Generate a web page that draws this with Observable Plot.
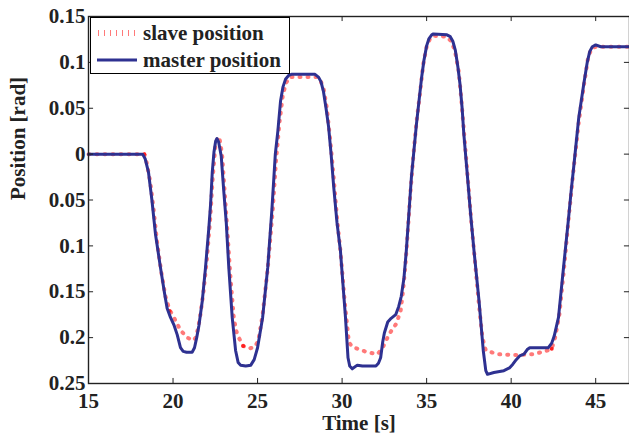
<!DOCTYPE html>
<html>
<head>
<meta charset="utf-8">
<script src="https://cdn.jsdelivr.net/npm/d3@7"></script>
<script src="https://cdn.jsdelivr.net/npm/@observablehq/plot@0.6"></script>
<style>
  body { margin: 0; background: white; }
  #wrap { position: relative; width: 629px; height: 438px; }
  #wrap svg text { font-family: "Liberation Serif", serif; font-weight: bold; }
  #legend { position: absolute; left: 90px; top: 17px; width: 198px; height: 55px; border: 1.3px solid black; background: white;
            font-family: "Liberation Serif", serif; font-weight: bold; font-size: 21px; color: #222; }
  .row { position: absolute; left: 0; height: 26px; display: flex; align-items: center; }
  .row span { margin-left: 6px; }
</style>
</head>
<body>
<div id="wrap"></div>
<script>
// ---- data ----
const masterT = [15,18.2,18.35,18.55,18.75,18.96,19.26,19.5,19.65,19.85,20.05,20.25,20.44,20.6,20.8,21.13,21.27,21.4,21.53,21.73,21.92,22.12,22.22,22.32,22.42,22.52,22.6,22.7,22.85,23.0,23.15,23.3,23.5,23.7,23.85,24.0,24.3,24.6,24.8,25.0,25.3,25.6,25.85,26.05,26.2,26.36,26.5,26.66,26.85,27.0,28.4,28.6,28.75,28.9,29.05,29.2,29.35,29.5,29.7,29.9,30.2,30.35,30.45,30.6,30.9,31.2,32.0,32.15,32.28,32.4,32.5,32.7,32.9,33.17,33.35,33.5,33.66,33.8,33.95,34.1,34.25,34.4,34.55,34.7,34.84,35.0,35.14,35.3,35.4,36.2,36.4,36.55,36.7,36.85,36.97,37.1,37.2,37.4,37.6,37.8,38.1,38.35,38.5,38.6,38.98,39.57,39.9,40.1,40.3,40.5,40.76,40.95,41.1,42.2,42.4,42.55,42.8,43.1,43.4,43.55,43.7,44.0,44.3,44.5,44.65,44.8,45.0,45.3,47];
const masterY = [0,0,-0.005,-0.02,-0.05,-0.087,-0.124,-0.152,-0.168,-0.178,-0.186,-0.197,-0.211,-0.215,-0.216,-0.216,-0.211,-0.2,-0.187,-0.16,-0.124,-0.08,-0.055,-0.02,0.002,0.014,0.017,0.013,-0.002,-0.04,-0.075,-0.124,-0.178,-0.214,-0.227,-0.23,-0.231,-0.23,-0.224,-0.211,-0.178,-0.124,-0.06,0.0,0.025,0.058,0.073,0.082,0.086,0.087,0.087,0.084,0.079,0.068,0.05,0.03,0.0,-0.035,-0.075,-0.105,-0.178,-0.222,-0.231,-0.234,-0.23,-0.231,-0.231,-0.228,-0.222,-0.205,-0.195,-0.183,-0.179,-0.175,-0.166,-0.155,-0.135,-0.105,-0.065,-0.025,0.004,0.033,0.058,0.083,0.102,0.118,0.126,0.13,0.131,0.13,0.128,0.123,0.113,0.095,0.077,0.05,0.022,-0.021,-0.065,-0.105,-0.16,-0.214,-0.236,-0.24,-0.238,-0.236,-0.233,-0.229,-0.224,-0.22,-0.218,-0.213,-0.211,-0.211,-0.206,-0.198,-0.178,-0.123,-0.069,-0.04,-0.014,0.04,0.077,0.1,0.112,0.117,0.119,0.117,0.117];

const slaveT = [15,18.3,18.45,18.65,18.85,19.05,19.3,19.55,19.8,20.05,20.44,20.84,21.2,21.35,21.5,21.62,21.8,22.0,22.2,22.35,22.5,22.65,22.75,22.9,23.05,23.2,23.4,23.6,23.8,24.15,24.5,24.85,25.05,25.3,25.6,25.9,26.1,26.3,26.5,26.7,26.9,28.5,28.7,28.9,29.1,29.3,29.5,29.7,29.9,30.15,30.4,30.6,30.9,31.5,32.1,32.4,32.6,32.8,33.0,33.2,33.46,33.6,33.75,33.9,34.05,34.2,34.4,34.6,34.8,35.0,35.2,35.4,36.2,36.5,36.7,36.9,37.05,37.25,37.45,37.65,37.85,38.1,38.3,38.5,39.2,40.2,41.3,42.0,42.4,42.6,42.85,43.1,43.4,43.7,44.0,44.3,44.55,44.75,45.0,47];
const slaveY = [0,0,-0.01,-0.03,-0.06,-0.095,-0.128,-0.155,-0.17,-0.178,-0.192,-0.2,-0.203,-0.2,-0.188,-0.175,-0.15,-0.115,-0.07,-0.025,0.008,0.019,0.017,0.0,-0.04,-0.08,-0.135,-0.18,-0.197,-0.209,-0.212,-0.21,-0.203,-0.175,-0.125,-0.06,-0.005,0.035,0.065,0.078,0.084,0.084,0.081,0.072,0.05,0.015,-0.025,-0.07,-0.105,-0.16,-0.205,-0.21,-0.212,-0.216,-0.218,-0.211,-0.203,-0.196,-0.19,-0.185,-0.171,-0.15,-0.12,-0.08,-0.04,-0.005,0.035,0.065,0.098,0.117,0.126,0.129,0.128,0.122,0.11,0.09,0.06,0.015,-0.03,-0.075,-0.115,-0.165,-0.2,-0.214,-0.218,-0.219,-0.218,-0.215,-0.212,-0.2,-0.175,-0.13,-0.07,-0.015,0.035,0.075,0.105,0.115,0.117,0.117];

const slaveDotT = [18.3,19.8,24.15,42.4];
const slaveDotY = [0,-0.171,-0.209,-0.212];

const xTicks = [15,20,25,30,35,40,45];
const yTicks = [-0.25,-0.2,-0.15,-0.1,-0.05,0,0.05,0.1,0.15];
const xLabel = "Time [s]";
const yLabel = "Position [rad]";
const seriesNames = ["slave position", "master position"];
const colors = {master: "#2e3191", slave: "#ff2020"};

// ---- build ----
const master = masterT.map((t, i) => ({t, v: masterY[i]}));
const slave = slaveT.map((t, i) => ({t, v: slaveY[i]}));
const slaveDots = slaveDotT.map((t, i) => ({t, v: slaveDotY[i]}));
const fmt = d => String(Math.abs(+d.toFixed(2)));
const xMin = 15, xMax = 47, yMin = -0.25, yMax = 0.15;
const tx = 0.3, ty = 0.0055;
const FF = "Liberation Serif";

const chart = Plot.plot({
  width: 629, height: 438,
  marginLeft: 88, marginRight: 0, marginTop: 16, marginBottom: 55,
  x: {domain: [xMin, xMax]},
  y: {domain: [yMin, yMax]},
  style: {fontFamily: FF, fontWeight: "bold", fontSize: "21px", color: "#222", background: "white"},
  marks: [
    Plot.line(slave, {x: "t", y: "v", stroke: colors.slave, strokeWidth: 4, strokeDasharray: "1,7", strokeOpacity: 0.6}),
    Plot.dot(slaveDots, {x: "t", y: "v", r: 2, fill: colors.slave, stroke: "none"}),
    Plot.line(master, {x: "t", y: "v", stroke: colors.master, strokeWidth: 3}),
    Plot.ruleX(xTicks, {y1: yMin, y2: yMin + ty, stroke: "#222"}),
    Plot.ruleX(xTicks, {y1: yMax - ty, y2: yMax, stroke: "#222"}),
    Plot.ruleY(yTicks, {x1: xMin, x2: xMin + tx, stroke: "#222"}),
    Plot.ruleY(yTicks, {x1: xMax - tx, x2: xMax, stroke: "#222"}),
    Plot.frame({stroke: "#222", strokeWidth: 1.4}),
    Plot.axisX(xTicks, {tickSize: 0, tickPadding: 10, tickFormat: d => String(d), label: null, fontFamily: FF, fontWeight: "bold", fontSize: 21}),
    Plot.axisY(yTicks, {tickSize: 0, tickPadding: 3, tickFormat: fmt, label: null, fontFamily: FF, fontWeight: "bold", fontSize: 21}),
    Plot.text([xLabel], {frameAnchor: "bottom", lineAnchor: "top", dy: 32, text: d => d, fontFamily: FF, fontWeight: "bold", fontSize: 21}),
    Plot.text([yLabel], {frameAnchor: "left", rotate: -90, dx: -70, text: d => d, fontFamily: FF, fontWeight: "bold", fontSize: 21})
  ]
});

const wrap = document.getElementById("wrap");
wrap.appendChild(chart);

const legend = document.createElement("div");
legend.id = "legend";
legend.innerHTML = `
  <div class="row" style="top:2px;left:6px">
    <svg width="40" height="10"><line x1="1" x2="40" y1="5" y2="5" stroke="${colors.slave}" stroke-width="6" stroke-dasharray="1,5" stroke-opacity="0.6"/></svg>
    <span>${seriesNames[0]}</span></div>
  <div class="row" style="top:29px;left:6px">
    <svg width="40" height="10"><line x1="0" x2="40" y1="5" y2="5" stroke="${colors.master}" stroke-width="3"/></svg>
    <span>${seriesNames[1]}</span></div>`;
wrap.appendChild(legend);
</script>
</body>
</html>
